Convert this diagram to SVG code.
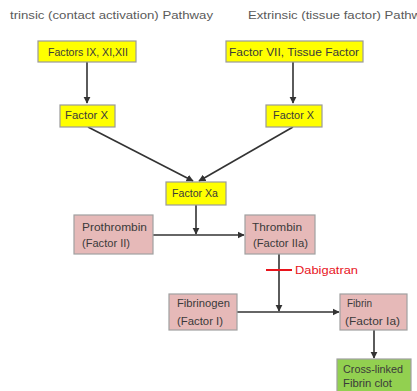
<svg xmlns="http://www.w3.org/2000/svg" width="417" height="391" viewBox="0 0 417 391">
<style>
text{font-family:"Liberation Sans","DejaVu Sans",sans-serif;font-size:10px;fill:#3a3a3a}
.hdr{font-size:10.5px;fill:#5a5a5a}
.y{fill:#ffff00;stroke:#9a9a9a;stroke-width:1.2}
.p{fill:#e6b9b8;stroke:#a0a0a0;stroke-width:1.2}
.g{fill:#92d050;stroke:#a0a0a0;stroke-width:1.2}
.c{stroke:#333;stroke-width:1.6;fill:none}
.red{fill:#e8141c;font-size:10.5px}
</style>
<defs>
<marker id="ah" viewBox="0 0 10 10" refX="9" refY="5" markerWidth="4.5" markerHeight="4.5" orient="auto"><path d="M0,0L10,5L0,10z" fill="#333"/></marker>
</defs>
<rect width="417" height="391" fill="#fff"/>
<text class="hdr" x="10" y="19" textLength="203" lengthAdjust="spacingAndGlyphs">trinsic (contact activation) Pathway</text>
<text class="hdr" x="248" y="19" textLength="187" lengthAdjust="spacingAndGlyphs">Extrinsic (tissue factor) Pathway</text>
<g id="connectors">
<line class="c" x1="87" y1="62" x2="87" y2="103" marker-end="url(#ah)"/>
<line class="c" x1="293" y1="62" x2="293" y2="103" marker-end="url(#ah)"/>
<line class="c" x1="88" y1="127" x2="193" y2="181" marker-end="url(#ah)"/>
<line class="c" x1="293" y1="127" x2="199" y2="181" marker-end="url(#ah)"/>
<line class="c" x1="196" y1="205" x2="196" y2="234" marker-end="url(#ah)"/>
<line class="c" x1="153" y1="235" x2="244" y2="235" marker-end="url(#ah)"/>
<line class="c" x1="279" y1="254" x2="279" y2="311" marker-end="url(#ah)"/>
<line class="c" x1="237" y1="312" x2="339" y2="312" marker-end="url(#ah)"/>
<line class="c" x1="374" y1="330" x2="374" y2="358" marker-end="url(#ah)"/>
<line x1="266" y1="270" x2="292" y2="270" stroke="#e8141c" stroke-width="2"/>
<text class="red" x="295" y="274" textLength="63" lengthAdjust="spacingAndGlyphs">Dabigatran</text>
</g>
<g id="n1"><rect class="y" x="38" y="41" width="98" height="21"/><text x="48" y="56" textLength="80" lengthAdjust="spacingAndGlyphs">Factors IX, XI,XII</text></g>
<g id="n2"><rect class="y" x="226" y="41" width="137" height="21"/><text x="229" y="56" textLength="130" lengthAdjust="spacingAndGlyphs">Factor VII, Tissue Factor</text></g>
<g id="n3"><rect class="y" x="60" y="105" width="55" height="22"/><text x="65" y="119" textLength="43" lengthAdjust="spacingAndGlyphs">Factor X</text></g>
<g id="n4"><rect class="y" x="266" y="105" width="56" height="22"/><text x="273" y="119" textLength="41" lengthAdjust="spacingAndGlyphs">Factor X</text></g>
<g id="n5"><rect class="y" x="166" y="182" width="60" height="23"/><text x="172" y="197" textLength="46" lengthAdjust="spacingAndGlyphs">Factor Xa</text></g>
<g id="n6"><rect class="p" x="74" y="215" width="79" height="39"/><text x="82" y="231" textLength="65" lengthAdjust="spacingAndGlyphs">Prothrombin</text><text x="82" y="247" textLength="48" lengthAdjust="spacingAndGlyphs">(Factor II)</text></g>
<g id="n7"><rect class="p" x="245" y="215" width="70" height="39"/><text x="252" y="231" textLength="50" lengthAdjust="spacingAndGlyphs">Thrombin</text><text x="253" y="247" textLength="55" lengthAdjust="spacingAndGlyphs">(Factor IIa)</text></g>
<g id="n8"><rect class="p" x="169" y="294" width="68" height="36"/><text x="177" y="307" textLength="53" lengthAdjust="spacingAndGlyphs">Fibrinogen</text><text x="177" y="325" textLength="46" lengthAdjust="spacingAndGlyphs">(Factor I)</text></g>
<g id="n9"><rect class="p" x="340" y="294" width="67" height="36"/><text x="347" y="307">Fibrin</text><text x="345" y="325" textLength="55" lengthAdjust="spacingAndGlyphs">(Factor Ia)</text></g>
<g id="n10"><rect class="g" x="337" y="359" width="74" height="40"/><text x="343" y="373" textLength="60" lengthAdjust="spacingAndGlyphs">Cross-linked</text><text x="343" y="387" textLength="49" lengthAdjust="spacingAndGlyphs">Fibrin clot</text></g>
</svg>
